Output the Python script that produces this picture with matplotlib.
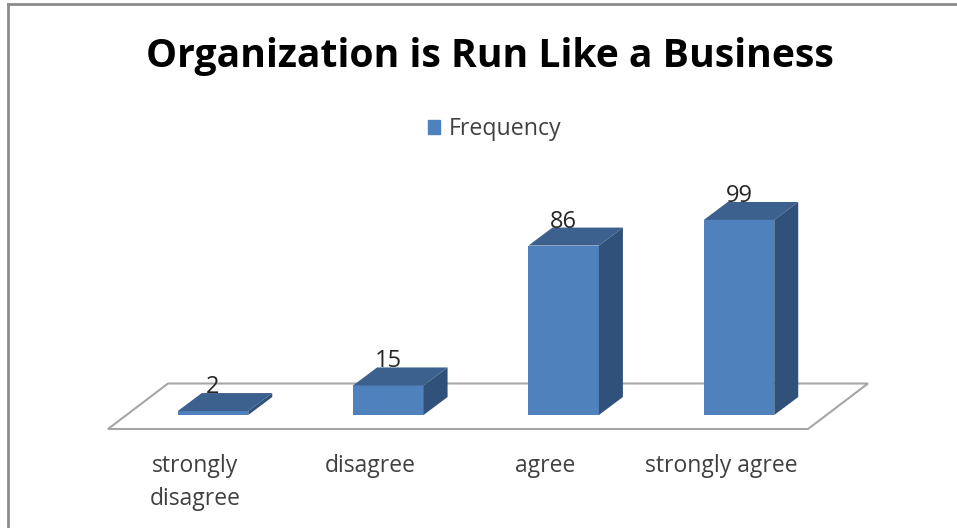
import matplotlib
matplotlib.use("Agg")
import matplotlib.pyplot as plt
from matplotlib.patches import Polygon, Patch
from matplotlib.lines import Line2D

categories = ["strongly\ndisagree", "disagree", "agree", "strongly agree"]
frequency = [2, 15, 86, 99]

FRONT = "#4f81bd"
TOP = "#3c618e"
SIDE = "#30527a"
FLOOR = "#a6a6a6"
TEXT = "#262626"

W, H = 957, 528
plt.rcParams['font.family'] = ['Open Sans', 'DejaVu Sans']

fig = plt.figure(figsize=(W / 100, H / 100), dpi=100)
fig.patch.set_facecolor("white")

# axes run from the front floor edge up, pixel box worked out from the reference
left, right, bottom, top = 108, 868, 429, 170
ax = fig.add_axes([left / W, 1 - bottom / H, (right - left) / W, (bottom - top) / H])

cat_px = 175.33   # pixels per category
val_px = 1.97     # pixels per unit
x0 = 213
y0 = 415
ax.set_xlim((left - x0) / cat_px, (right - x0) / cat_px)
ax.set_ylim((y0 - bottom) / val_px, (y0 - top) / val_px)
ax.patch.set_alpha(0)
for s in ax.spines.values():
    s.set_visible(False)

# depth of the fake 3d, in data units
dx = 24 / cat_px
dy = 18 / val_px
bar_w = 70.5 / cat_px

# floor plate
x_lo, x_hi = ax.get_xlim()
y_lo = ax.get_ylim()[0]
back_y = y_lo + 45.5 / val_px
slant = 60 / cat_px
ax.add_patch(Polygon([(x_lo, y_lo), (x_hi - slant, y_lo), (x_hi, back_y), (x_lo + slant, back_y)],
                     closed=True, fc="white", ec=FLOOR, lw=1.5, zorder=1, clip_on=False))

bars = ax.bar(range(len(frequency)), frequency, width=bar_w, color=FRONT, zorder=3, label="Frequency")

for i, v in enumerate(frequency):
    l = i - bar_w / 2
    r = i + bar_w / 2
    ax.add_patch(Polygon([(l, v), (r, v), (r + dx, v + dy), (l + dx, v + dy)],
                         closed=True, fc=TOP, ec="none", zorder=3, clip_on=False))
    ax.add_patch(Polygon([(r, 0), (r + dx, dy), (r + dx, v + dy), (r, v)],
                         closed=True, fc=SIDE, ec="none", zorder=3, clip_on=False))
    # labels sit on the bar centre and dip into the top face
    ax.text(i, v + dy - 6 / val_px, str(v), ha="center", va="bottom", fontsize=17,
            color=TEXT, zorder=4, clip_on=False, linespacing=1)

ax.set_yticks([])
# category labels are shifted left of the bars in the reference
ax.set_xticks([i - 18 / cat_px for i in range(len(frequency))])
ax.set_xticklabels(categories, fontsize=16.5, color="#404040", linespacing=1.5)
ax.tick_params(axis="x", length=0, pad=18)

fig.text(490 / W, 1 - 57 / H, "Organization is Run Like a Business", ha="center", va="center",
         fontsize=28.2, fontweight="bold", color="black")

leg = fig.legend(handles=[Patch(color=FRONT, label="Frequency")], loc="center", bbox_to_anchor=(494.5 / W, 1 - 129 / H),
                 frameon=False, fontsize=16.7, handlelength=0.54, handleheight=0.56, handletextpad=0.36)
for t in leg.get_texts():
    t.set_color("#404040")

# outer frame of the chart area
frame = dict(color="#8c8c8c", lw=2, transform=fig.transFigure)
fig.add_artist(Line2D([8 / W, 8 / W], [0, 1 - 4 / H], **frame))
fig.add_artist(Line2D([8 / W, 1], [1 - 4 / H, 1 - 4 / H], **frame))

fig.savefig("out.png", dpi=100)
